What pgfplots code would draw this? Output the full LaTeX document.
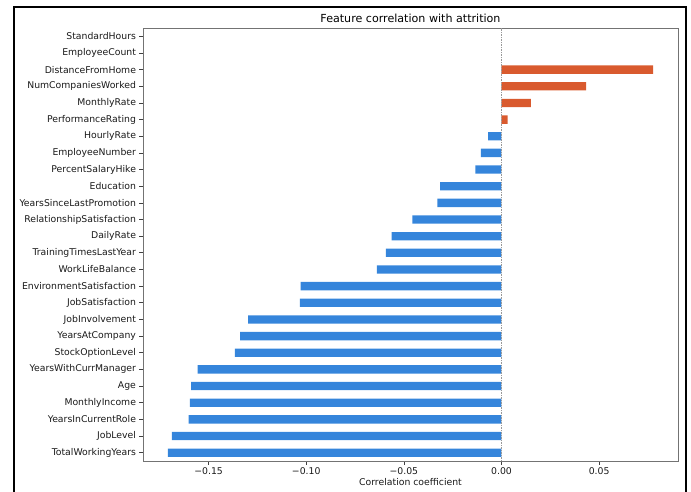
\documentclass[border=0pt]{standalone}
\usepackage{pgfplots}
\pgfplotsset{compat=1.18}
\usepackage{fontspec}
\setmainfont{DejaVu Sans}
\definecolor{barblue}{RGB}{53,133,219}
\definecolor{barorange}{RGB}{217,90,46}
\begin{document}
\begin{tikzpicture}[x=1pt,y=1pt]
\useasboundingbox (0,0) rectangle (691,491);
\draw[black, line width=2pt] (14,-2) -- (14,484) -- (685.5,484) -- (685.5,-2);
\begin{axis}[
  at={(143pt,30pt)}, anchor=south west,
  scale only axis, width=535pt, height=433pt,
  xmin=-0.1836, xmax=0.0904,
  ymin=-0.5, ymax=25.5,
  axis line style={black!55, line width=0.9pt},
  tick style={black!75, line width=0.7pt},
  major tick length=3.5pt,
  tick align=outside,
  xtick pos=bottom, ytick pos=left,
  xtick={-0.15,-0.10,-0.05,0,0.05},
  xticklabels={−0.15,−0.10,−0.05,0.00,0.05},
  ytick={0,...,25},
  yticklabels={TotalWorkingYears,JobLevel,YearsInCurrentRole,MonthlyIncome,Age,YearsWithCurrManager,StockOptionLevel,YearsAtCompany,JobInvolvement,JobSatisfaction,EnvironmentSatisfaction,WorkLifeBalance,TrainingTimesLastYear,DailyRate,RelationshipSatisfaction,YearsSinceLastPromotion,Education,PercentSalaryHike,EmployeeNumber,HourlyRate,PerformanceRating,MonthlyRate,NumCompaniesWorked,DistanceFromHome,EmployeeCount,StandardHours},
  ticklabel style={font=\fontsize{9.3}{11}\selectfont, text=black!90},
  xlabel={Correlation coefficient},
  xlabel style={at={(rel axis cs:0.5,0)}, anchor=center, yshift=-21pt, font=\fontsize{9.3}{11}\selectfont, text=black!90},
  title={Feature correlation with attrition},
  title style={at={(rel axis cs:0.5,1)}, anchor=center, yshift=3.5pt, font=\fontsize{11.1}{13}\selectfont, text=black},
  clip=false,
]
\addplot[xbar, bar shift=0pt, bar width=0.5, fill=barblue, draw=none] coordinates {
(-0.1708,0) (-0.1688,1) (-0.1602,2) (-0.1596,3) (-0.1590,4) (-0.1556,5)
(-0.1366,6) (-0.1338,7) (-0.1298,8) (-0.1032,9) (-0.1029,10) (-0.0638,11)
(-0.0592,12) (-0.0563,13) (-0.0456,14) (-0.0328,15) (-0.0314,16) (-0.0134,17)
(-0.0106,18) (-0.0068,19)
};
\addplot[xbar, bar shift=0pt, bar width=0.5, fill=barorange, draw=none] coordinates {
(0.0031,20) (0.0151,21) (0.0433,22) (0.0777,23)
};
\addplot[black!40, dash pattern=on 1.5pt off 1pt, line width=0.7pt] coordinates {(0,-0.5) (0,25.5)};
\end{axis}
\end{tikzpicture}
\end{document}
